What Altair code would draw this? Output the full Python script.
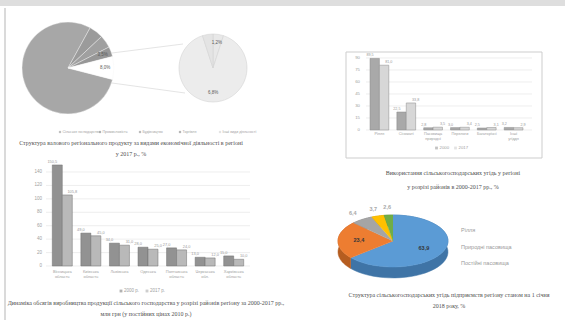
import math
import altair as alt
import pandas as pd

# ---------------- data ----------------
# pie-of-pie (top left)
pp_cats = ["Сільське господарство", "Промисловість", "Будівництво", "Торгівля", "Інші види діяльності"]
pp_vals = [79.0, 5.0, 4.5, 3.5, 8.0]
pp_labels = ["", "", "", "3,5%", "8,0%"]
pp_colors = ["#a7a7a7", "#9b9b9b", "#a0a0a0", "#979797", "#ffffff"]

pp2_cats = ["Освіта", "Охорона здоров'я", "Інші послуги"]
pp2_vals = [5.0, 90.0, 5.0]
pp2_labels = ["1,2%", "6,8%", ""]
pp2_colors = ["#e8e8e8", "#ececec", "#e4e4e4"]

# grouped bars (bottom left)
lb_cats = ["Вінницька\nобласть", "Київська\nобласть", "Львівська", "Одеська",
           "Полтавська\nобласть", "Черкаська\nобл.", "Харківська\nобласть"]
lb_series = ["2000 р.", "2017 р."]
lb_s1 = [150.5, 49.0, 34.0, 28.0, 27.0, 13.0, 15.0]
lb_s2 = [105.8, 45.0, 31.0, 25.0, 24.0, 12.0, 10.0]
lb_ticks = [0, 20, 40, 60, 80, 100, 120, 140]
lb_colors = ["#929292", "#b9b9b9"]

# grouped bars (top right, boxed)
rb_cats = ["Рілля", "Сіножаті", "Пасовища\nприродні", "Перелоги", "Багаторічні", "Інші\nугіддя"]
rb_series = ["2000", "2017"]
rb_s1 = [89.5, 22.5, 2.8, 3.0, 2.5, 3.2]
rb_s2 = [81.0, 33.8, 3.5, 3.4, 3.1, 2.9]
rb_ticks = [0, 15, 30, 45, 60, 75, 90]
rb_colors = ["#a9a9a9", "#d7d7d7"]

# 3-D pie (bottom right)
p3_cats = ["Рілля", "Природні пасовища", "Постійні пасовища", "Сіножаті", "Багаторічні насадження"]
p3_vals = [63.9, 23.4, 6.4, 3.7, 2.6]
p3_top = ["#5b9bd5", "#ed7d31", "#a5a5a5", "#ffc000", "#70ad47"]
p3_side = ["#3f74a6", "#b55d20", "#7b7b7b", "#bf8f00", "#517f33"]
p3_legend = ["Рілля", "Природні пасовища", "Постійні пасовища"]

# captions
cap_pp = ["Структура валового регіонального продукту за видами економічної діяльності в регіоні",
          "у 2017 р., %"]
cap_lb = ["Динаміка обсягів виробництва продукції сільського господарства у розрізі районів регіону за 2000-2017 рр.,",
          "млн грн (у постійних цінах 2010 р.)"]
cap_rb = ["Використання сільськогосподарських угідь у регіоні",
          "у розрізі районів в 2000-2017 рр., %"]
cap_p3 = ["Структура сільськогосподарських угідь підприємств регіону станом на 1 січня",
          "2018 року, %"]

SANS = "Liberation Sans"
SERIF = "Liberation Serif"
TAU = 2 * math.pi
ONE = pd.DataFrame({"k": [0]})

layers = []

# ---------------- page frame ----------------
layers.append(alt.Chart(ONE).mark_rect(color="#dedede").encode(
    x=alt.value(0), x2=alt.value(565), y=alt.value(0), y2=alt.value(6)))
layers.append(alt.Chart(ONE).mark_rule(color="#cbcbcb", strokeWidth=1.4).encode(
    x=alt.value(5), y=alt.value(8), y2=alt.value(320)))


# ---------------- pies (pie of pie) ----------------
def pie(cats, vals, labels, colors, cx, cy, r, start, label_r, stroke, sw, fs):
    df = pd.DataFrame({"cat": cats, "v": vals, "lab": labels, "o": list(range(len(cats)))})
    theta = alt.Theta("v:Q", stack=True, scale=alt.Scale(range=[start, start + TAU]))
    base = alt.Chart(df).encode(theta=theta, order=alt.Order("o:Q"),
                                x=alt.value(cx), y=alt.value(cy))
    arcs = base.mark_arc(outerRadius=r, stroke=stroke, strokeWidth=sw).encode(
        color=alt.Color("cat:N", scale=alt.Scale(domain=cats, range=colors), legend=None))
    text = base.mark_text(radius=label_r, fontSize=fs, color="#5a5a5a", font=SANS).encode(text="lab:N")
    return [arcs, text]


other_frac = pp_vals[-1] / sum(pp_vals)
pp_start = math.pi / 2 - (1 - other_frac / 2) * TAU + TAU
layers += pie(pp_cats, pp_vals, pp_labels, pp_colors, 68, 68, 46, pp_start, 37, "#f4f4f4", 0.4, 4.5)

# connector lines
layers.append(alt.Chart(ONE).mark_rule(color="#d2d2d2", strokeWidth=0.6).encode(
    x=alt.value(112), y=alt.value(53), x2=alt.value(183), y2=alt.value(44)))
layers.append(alt.Chart(ONE).mark_rule(color="#d2d2d2", strokeWidth=0.6).encode(
    x=alt.value(112), y=alt.value(83), x2=alt.value(185), y2=alt.value(93)))

layers += pie(pp2_cats, pp2_vals, pp2_labels, pp2_colors, 213, 68, 34, 0, 25, "#d4d4d4", 0.6, 4.5)

# legend row under the pie of pie
pp_leg = pd.DataFrame({"cat": pp_cats})
pp_leg_x = alt.X("cat:N", sort=pp_cats, bandPosition=0,
                 scale=alt.Scale(domain=pp_cats, range=[40, 240]), axis=None)
layers.append(alt.Chart(pp_leg).mark_square(size=5).encode(
    x=pp_leg_x, y=alt.value(132),
    color=alt.Color("cat:N", scale=alt.Scale(domain=pp_cats, range=["#a7a7a7", "#9b9b9b", "#a0a0a0", "#979797", "#d8d8d8"]), legend=None)))
layers.append(alt.Chart(pp_leg).mark_text(fontSize=3.6, align="left", dx=2.5, color="#a3a3a3", font=SANS).encode(
    x=pp_leg_x, y=alt.value(132), text="cat:N"))


# ---------------- grouped bar panels ----------------
def bar_panel(cats, series, s1, s2, colors, stroke, xr, yr, ydom, ticks,
              grid_x, tick_x, cat_y, leg_xr, leg_y, fs):
    n = len(cats)
    df = pd.DataFrame({"cat": cats * 2, "s": [series[0]] * n + [series[1]] * n, "value": s1 + s2})
    X = alt.X("cat:N", sort=cats, scale=alt.Scale(domain=cats, range=xr, paddingInner=0.3, paddingOuter=0.15), axis=None)
    XO = alt.XOffset("s:N", sort=series, scale=alt.Scale(domain=series, paddingInner=0, paddingOuter=0))
    Y = alt.Y("value:Q", scale=alt.Scale(domain=ydom, range=yr, nice=False, zero=False), axis=None)
    C = alt.Color("s:N", scale=alt.Scale(domain=series, range=colors), legend=None)
    tdf = pd.DataFrame({"value": ticks})
    out = []
    out.append(alt.Chart(tdf).mark_rule(color="#e3e3e3", strokeWidth=0.6).encode(
        y=Y, x=alt.value(grid_x[0]), x2=alt.value(grid_x[1])))
    out.append(alt.Chart(tdf).mark_text(align="right", fontSize=fs, color="#a0a0a0", font=SANS).encode(
        y=Y, x=alt.value(tick_x), text="value:Q"))
    out.append(alt.Chart(df).mark_bar(stroke=stroke, strokeWidth=0.5).encode(x=X, xOffset=XO, y=Y, color=C))
    out.append(alt.Chart(df).transform_calculate(
        lbl="replace(format(datum.value, '.1f'), '.', ',')").mark_text(
        baseline="bottom", dy=-1, fontSize=fs - 0.6, color="#9a9a9a", font=SANS).encode(
        x=X, xOffset=XO, y=Y, text="lbl:N"))
    out.append(alt.Chart(pd.DataFrame({"cat": cats})).mark_text(
        baseline="top", lineBreak="\n", lineHeight=5, fontSize=fs - 0.5, color="#a0a0a0", font=SANS).encode(
        x=X, y=alt.value(cat_y), text="cat:N"))
    ldf = pd.DataFrame({"s": series})
    LX = alt.X("s:N", sort=series, bandPosition=0, scale=alt.Scale(domain=series, range=leg_xr), axis=None)
    out.append(alt.Chart(ldf).mark_square(size=8).encode(x=LX, y=alt.value(leg_y), color=C))
    out.append(alt.Chart(ldf).mark_text(align="left", dx=3, fontSize=fs, color="#a0a0a0", font=SANS).encode(
        x=LX, y=alt.value(leg_y), text="s:N"))
    return out


layers += bar_panel(lb_cats, lb_series, lb_s1, lb_s2, lb_colors, "#6f6f6f",
                    [48, 248], [266, 172], [0, 140], lb_ticks, (46, 250), 42, 270,
                    [108, 160], 291, 4.5)

# box of the right bar chart
layers.append(alt.Chart(ONE).mark_rect(fill="#ffffff", stroke="#cdcdcd", strokeWidth=1).encode(
    x=alt.value(346), x2=alt.value(542), y=alt.value(52), y2=alt.value(158)))
layers += bar_panel(rb_cats, rb_series, rb_s1, rb_s2, rb_colors, "#8a8a8a",
                    [366, 527], [130, 58], [0, 90], rb_ticks, (366, 532), 360, 132,
                    [427, 465], 148, 4.3)

# ---------------- 3-D pie ----------------
P3_DEPTH = 0.42
p3_df = pd.DataFrame({"cat": p3_cats, "v": p3_vals, "o": list(range(len(p3_cats)))})
p3_base = (alt.Chart(p3_df)
           .transform_joinaggregate(total="sum(v)")
           .transform_window(cum="sum(v)", sort=[alt.SortField("o")])
           .transform_calculate(a0="(datum.cum - datum.v) / datum.total * 2 * PI")
           .transform_calculate(a1="datum.cum / datum.total * 2 * PI"))
PX = alt.X("px:Q", scale=alt.Scale(domain=[-1, 1], range=[338, 448], nice=False, zero=False), axis=None)
PY = alt.Y("py:Q", scale=alt.Scale(domain=[-1, 1], range=[267, 215], nice=False, zero=False), axis=None)

wall = (p3_base
        .transform_calculate(k="sequence(0, 82)")
        .transform_flatten(["k"])
        .transform_calculate(j="datum.k <= 40 ? datum.k : 81 - datum.k")
        .transform_calculate(ang="datum.a0 + (datum.a1 - datum.a0) * datum.j / 40")
        .transform_calculate(px="sin(datum.ang)")
        .transform_calculate(py=f"cos(datum.ang) - (datum.k > 40 ? {P3_DEPTH} : 0)")
        .mark_line(strokeWidth=0.5)
        .encode(x=PX, y=PY, order=alt.Order("k:Q"), detail="cat:N",
                fill=alt.Fill("cat:N", scale=alt.Scale(domain=p3_cats, range=p3_side), legend=None),
                stroke=alt.Stroke("cat:N", scale=alt.Scale(domain=p3_cats, range=p3_side), legend=None)))
top = (p3_base
       .transform_calculate(k="sequence(-1, 41)")
       .transform_flatten(["k"])
       .transform_calculate(ang="datum.a0 + (datum.a1 - datum.a0) * max(datum.k, 0) / 40")
       .transform_calculate(rr="datum.k < 0 ? 0 : 1")
       .transform_calculate(px="datum.rr * sin(datum.ang)")
       .transform_calculate(py="datum.rr * cos(datum.ang)")
       .mark_line(strokeWidth=0.5)
       .encode(x=PX, y=PY, order=alt.Order("k:Q"), detail="cat:N",
               fill=alt.Fill("cat:N", scale=alt.Scale(domain=p3_cats, range=p3_top), legend=None),
               stroke=alt.Stroke("cat:N", scale=alt.Scale(domain=p3_cats, range=p3_top), legend=None)))
p3_lab = (p3_base
          .transform_calculate(mid="(datum.a0 + datum.a1) / 2")
          .transform_calculate(rr="datum.v > 10 ? 0.62 : 1.3")
          .transform_calculate(px="datum.rr * sin(datum.mid)")
          .transform_calculate(py="datum.rr * cos(datum.mid)")
          .transform_calculate(lab="replace(format(datum.v, '.1f'), '.', ',')")
          .mark_text(fontSize=5.5, font=SANS, fontWeight="bold")
          .encode(x=PX, y=PY, text="lab:N",
                  color=alt.condition("datum.v > 10", alt.value("#33363a"), alt.value("#a8a8a8"))))
layers += [wall, top, p3_lab]

p3_leg = pd.DataFrame({"cat": p3_legend})
layers.append(alt.Chart(p3_leg).mark_text(align="left", fontSize=5.5, color="#9a9a9a", font=SANS).encode(
    x=alt.value(461),
    y=alt.Y("cat:N", sort=p3_legend, scale=alt.Scale(domain=p3_legend, range=[222, 271]), axis=None),
    text="cat:N"))


# ---------------- captions ----------------
def caption(lines, cx, ytop, lh, fs=6):
    return alt.Chart(pd.DataFrame({"t": ["\n".join(lines)]})).mark_text(
        font=SERIF, fontSize=fs, color="#4f4f4f", lineBreak="\n", lineHeight=lh,
        align="center", baseline="top").encode(x=alt.value(cx), y=alt.value(ytop), text="t:N")


layers.append(caption(cap_pp, 131, 140, 11))
layers.append(caption(cap_lb, 146, 300, 11))
layers.append(caption(cap_rb, 453, 169.5, 14, 6.0))
layers.append(caption(cap_p3, 449, 292, 11))

chart = (alt.layer(*layers)
         .resolve_scale(x="independent", y="independent", theta="independent",
                        color="independent", fill="independent", stroke="independent",
                        xOffset="independent")
         .properties(width=565, height=320, autosize=alt.AutoSizeParams(type="none"),
                     padding=0, background="#ffffff")
         .configure_view(strokeWidth=0))

chart.save("out.html", embed_options={"renderer": "svg", "actions": False})
